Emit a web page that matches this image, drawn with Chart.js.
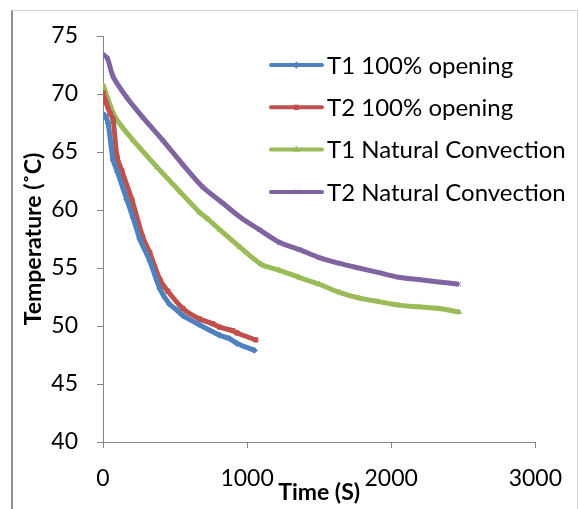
<!DOCTYPE html>
<html><head><meta charset="utf-8">
<script src="https://cdn.jsdelivr.net/npm/chart.js@4/dist/chart.umd.min.js"></script>
<style>
html,body{margin:0;padding:0;background:#fff;}
#wrap{position:relative;width:579px;height:509px;overflow:hidden;}
#frame{position:absolute;left:11px;top:10px;width:567px;height:520px;border-left:2px solid #8f8f8f;border-top:1px solid #d4d4d4;border-right:1px solid #d4d4d4;box-sizing:border-box;}
canvas{position:absolute;left:0;top:0;}
</style></head>
<body><div id="wrap"><div id="frame"></div><canvas id="c" width="579" height="509"></canvas></div>
<script>
// ---- data ----
const seriesLabels = ["T1 100% opening", "T2 100% opening", "T1 Natural Convection", "T2 Natural Convection"];

const t1OpenTime = [0, 15, 35, 70, 100, 165, 210, 255, 325, 395, 460, 510, 555, 670, 810, 880, 930, 1050];
const t1OpenTemp = [68.3, 68.1, 67.5, 64.3, 63.3, 60.9, 59.3, 57.5, 55.6, 53.2, 51.9, 51.4, 50.9, 50.1, 49.2, 48.9, 48.5, 47.9];

const t2OpenTime = [0, 20, 50, 70, 97, 130, 200, 275, 325, 395, 450, 555, 670, 760, 810, 900, 930, 1060];
const t2OpenTemp = [70.1, 69.3, 68.3, 67.8, 64.6, 63.4, 60.9, 57.7, 56.3, 54.0, 53.0, 51.5, 50.6, 50.2, 49.9, 49.6, 49.4, 48.8];

const t1NatTime = [0, 85, 210, 375, 540, 670, 730, 810, 950, 1100, 1225, 1360, 1500, 1640, 1780, 1915, 2050, 2190, 2330, 2470];
const t1NatTemp = [70.8, 68.0, 66.0, 63.7, 61.5, 59.8, 59.2, 58.3, 56.8, 55.3, 54.8, 54.2, 53.6, 52.9, 52.4, 52.1, 51.8, 51.65, 51.5, 51.2];

const t2NatTime = [0, 30, 70, 165, 275, 415, 555, 690, 830, 950, 1085, 1225, 1360, 1500, 1640, 1775, 1915, 2050, 2190, 2330, 2470];
const t2NatTemp = [73.4, 73.1, 71.5, 69.7, 68.0, 66.0, 63.9, 62.0, 60.6, 59.4, 58.3, 57.2, 56.6, 55.9, 55.4, 55.0, 54.6, 54.2, 54.0, 53.8, 53.6];

const xTicks = [0, 1000, 2000, 3000];
const yTicks = [40, 45, 50, 55, 60, 65, 70, 75];
const xTitle = "Time (S)";
const yTitle = "Temperature (\u02DAC)";

// ---- styling ----
const colors = ["#4F81BD", "#C0504D", "#9BBB59", "#8064A2"];
const markers = ["rectRot", "rect", "triangle", "crossRot"];
const pairs = [[t1OpenTime, t1OpenTemp], [t2OpenTime, t2OpenTemp], [t1NatTime, t1NatTemp], [t2NatTime, t2NatTemp]];

Chart.defaults.font.family = "Lato, 'Open Sans', sans-serif";
Chart.defaults.color = "#000";

const datasets = pairs.map((p, i) => ({
  label: seriesLabels[i],
  data: p[0].map((t, k) => ({x: t, y: p[1][k]})),
  borderColor: colors[i],
  backgroundColor: colors[i],
  pointBackgroundColor: colors[i],
  pointBorderColor: colors[i],
  borderWidth: 5,
  pointRadius: 3,
  pointBorderWidth: 1,
  pointStyle: markers[i],
  tension: 0.25,
  fill: false
}));

const legendPlugin = {
  id: "boxLegend",
  afterDraw(chart) {
    const ctx = chart.ctx;
    chart.data.datasets.forEach((ds, i) => {
      const y = 65 + i * 42.3;
      ctx.save();
      ctx.strokeStyle = ds.borderColor;
      ctx.lineWidth = 4;
      ctx.lineCap = "round";
      ctx.beginPath(); ctx.moveTo(271, y); ctx.lineTo(322, y); ctx.stroke();
      ctx.fillStyle = ds.borderColor;
      ctx.strokeStyle = ds.borderColor;
      ctx.lineWidth = 1;
      Chart.helpers.drawPoint(ctx, {pointStyle: ds.pointStyle, radius: 3, borderWidth: 1, rotation: 0}, 296.5, y);
      ctx.fillStyle = "#000";
      ctx.font = "24px Lato";
      ctx.textBaseline = "middle";
      ctx.textAlign = "left";
      ctx.fillText(ds.label, 327, y + 1);
      ctx.restore();
    });
  }
};

new Chart(document.getElementById("c"), {
  type: "line",
  data: {datasets},
  plugins: [legendPlugin],
  options: {
    responsive: false,
    animation: false,
    layout: {padding: {left: 0, right: 42, top: 36, bottom: 0}},
    plugins: {legend: {display: false}, tooltip: {enabled: false}},
    scales: {
      x: {
        type: "linear", min: 0, max: 3000,
        afterBuildTicks: (s) => { s.ticks = xTicks.map(v => ({value: v})); },
        afterFit: (s) => { s.height = 67; },
        ticks: {font: {size: 23}, padding: 17, maxRotation: 0, color: "#000", callback: (v) => String(v)},
        grid: {drawOnChartArea: false, drawTicks: true, tickLength: 6, color: "#868686"},
        border: {color: "#868686", width: 1},
        title: {display: true, text: xTitle, font: {size: 23, weight: "bold"}, padding: {top: 0, bottom: 3}, color: "#000"}
      },
      y: {
        type: "linear", min: 40, max: 75,
        afterBuildTicks: (s) => { s.ticks = yTicks.map(v => ({value: v})); },
        afterFit: (s) => { s.width = 103; },
        ticks: {font: {size: 23}, padding: 19, color: "#000", callback: (v) => String(v)},
        grid: {drawOnChartArea: false, drawTicks: true, tickLength: 6, color: "#868686"},
        border: {color: "#868686", width: 1},
        title: {display: true, text: yTitle, font: {size: 23, weight: "bold"}, padding: {top: 20, bottom: 0}, color: "#000"}
      }
    }
  }
});
</script>
</body></html>
